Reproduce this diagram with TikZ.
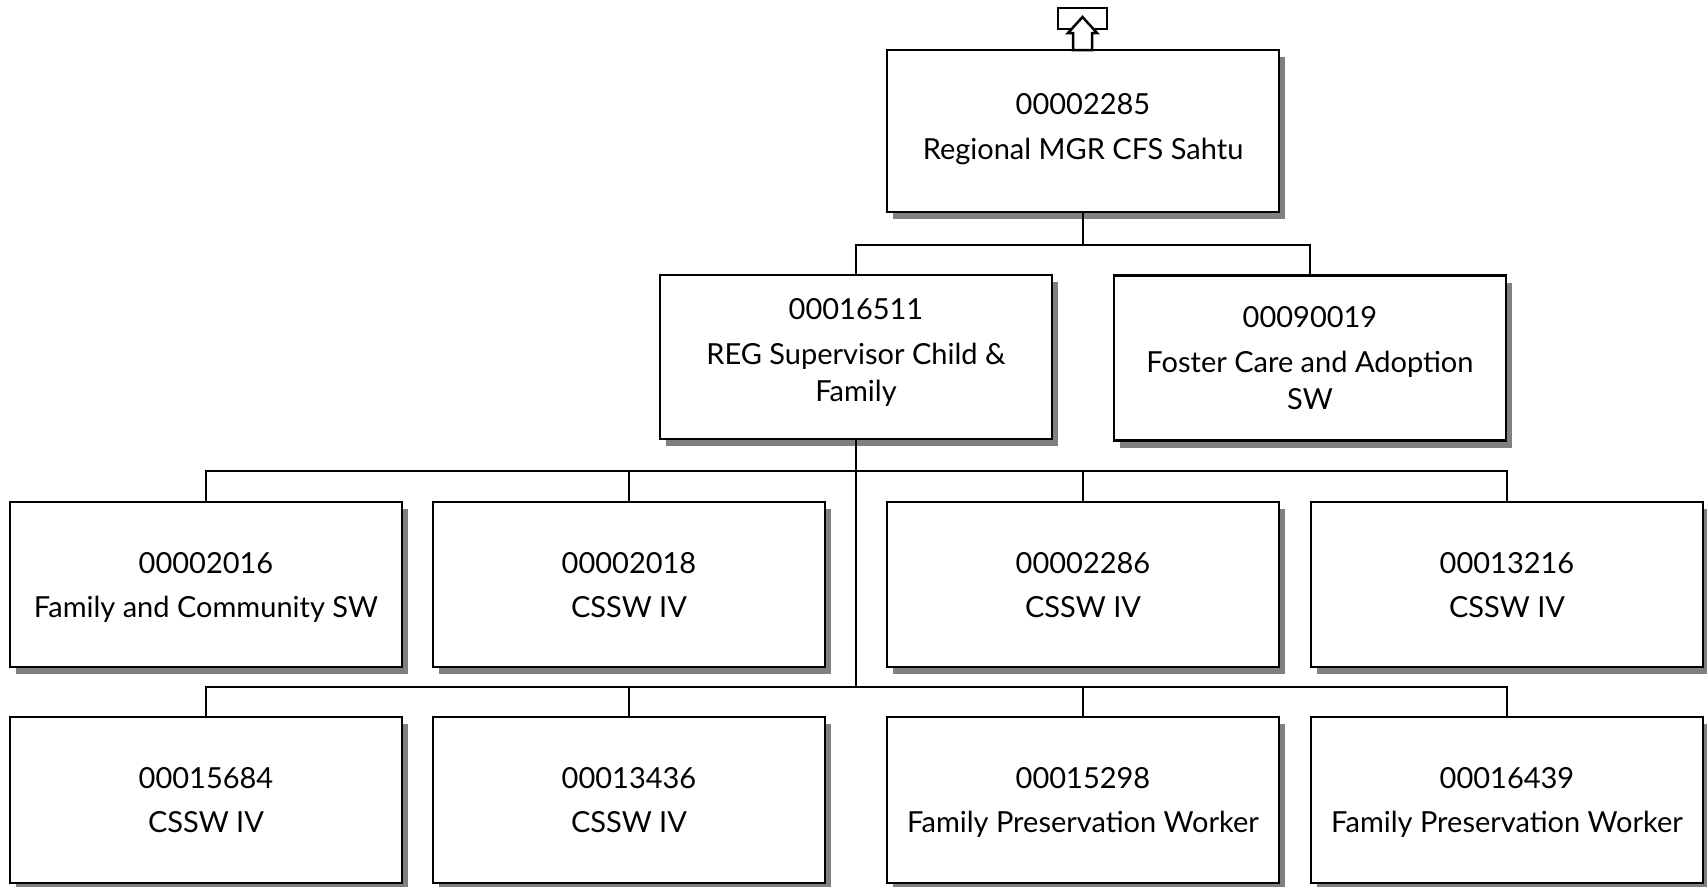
\documentclass[tikz,border=0pt]{standalone}
\usepackage{fontspec}
\setmainfont{Lato}
\usetikzlibrary{shadows}
\begin{document}
\begin{tikzpicture}[x=1pt,y=-1pt,
  box/.style={draw=black, line width=2.5pt, fill=white, align=center,
    minimum width=392pt, inner sep=0pt, text depth=0pt, font=\fontsize{29}{37}\selectfont,
    drop shadow={shadow xshift=6pt, shadow yshift=-7pt, fill=black!50, opacity=1}},
  conn/.style={draw=black, line width=2pt}]
\useasboundingbox (0,0) rectangle (1707,886);
% level 1
\node[box, minimum height=162pt, text depth=9pt] (top) at (1083,131) {00002285\\[8pt]Regional MGR CFS Sahtu};
% level 2
\node[box, minimum height=164pt, text depth=14pt] (reg) at (856,357) {00016511\\[8pt]REG Supervisor Child \&\\Family};
\node[box, minimum height=165pt] (fos) at (1310,358) {00090019\\[8pt]Foster Care and Adoption\\SW};
% level 3
\node[box, minimum height=165pt] (a1) at (206,584.5) {00002016\\[7pt]Family and Community SW};
\node[box, minimum height=165pt] (a2) at (629,584.5) {00002018\\[7pt]CSSW IV};
\node[box, minimum height=165pt] (a3) at (1083,584.5) {00002286\\[7pt]CSSW IV};
\node[box, minimum height=165pt] (a4) at (1507,584.5) {00013216\\[7pt]CSSW IV};
% level 4
\node[box, minimum height=166pt] (b1) at (206,800) {00015684\\[7pt]CSSW IV};
\node[box, minimum height=166pt] (b2) at (629,800) {00013436\\[7pt]CSSW IV};
\node[box, minimum height=166pt] (b3) at (1083,800) {00015298\\[7pt]Family Preservation Worker};
\node[box, minimum height=166pt] (b4) at (1507,800) {00016439\\[7pt]Family Preservation Worker};
% buses
\coordinate (bus1) at (1083,245);
\coordinate (bus2) at (856,471);
\coordinate (bus3) at (856,687);
\draw[conn] (top.south) -- (top.south |- bus1);
\draw[conn] (reg.north) |- (top.south |- bus1) -| (fos.north);
\draw[conn] (reg.south) -- (bus3);
\draw[conn] (a1.north) |- (bus2) -| (a4.north);
\draw[conn] (a2.north) -- (a2.north |- bus2);
\draw[conn] (a3.north) -- (a3.north |- bus2);
\draw[conn] (b1.north) |- (bus3) -| (b4.north);
\draw[conn] (b2.north) -- (b2.north |- bus3);
\draw[conn] (b3.north) -- (b3.north |- bus3);
% up arrow icon
\draw[line width=2.5pt, fill=white] (1058,8) rectangle (1107,29);
\draw[line width=2.5pt, fill=white, line join=miter]
  (1082.5,17) -- (1097,33) -- (1092,33) -- (1092,50) -- (1073,50) -- (1073,33) -- (1068,33) -- cycle;
\end{tikzpicture}
\end{document}
